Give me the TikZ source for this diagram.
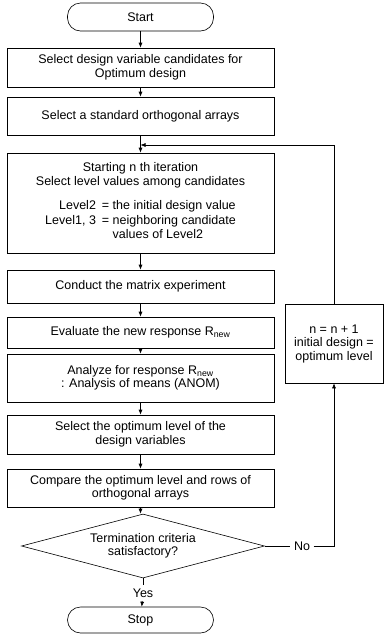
\documentclass[tikz,border=0pt]{standalone}
\usepackage{fontspec}
\setmainfont{Liberation Sans}
\usetikzlibrary{shapes.geometric,arrows.meta}

\tikzset{
  box/.style={draw, rectangle, minimum width=267pt, align=center, inner sep=2pt},
  term/.style={draw, rectangle, rounded corners=13pt, minimum width=146pt, minimum height=28pt},
  arr/.style={-{Latex[length=5pt,width=4pt]}}
}

\begin{document}
\begin{tikzpicture}[x=1pt, y=1pt, line width=0.6pt, font=\fontsize{12.5}{13.5}\selectfont]

\useasboundingbox (0,0) rectangle (385,-635);

% Start
\node[term] (start) at (140.5,-17) {Start};

% Steps
\node[box, minimum height=39pt] (b1) at (140.5,-67.5) {Select design variable candidates for\\Optimum design};
\node[box, minimum height=38pt] (b2) at (140.5,-116) {Select a standard orthogonal arrays};
\node[box, minimum height=100pt] (b3) at (140.5,-203) {Starting n th iteration\\Select level values among candidates\\[10pt]
  \renewcommand{\arraystretch}{1.1}%
  \begin{tabular}{@{}r@{\hspace{6pt}}l@{}}
  Level2 & = the initial design value\\
  Level1, 3 & = neighboring candidate\\
  & \phantom{= }values of Level2
  \end{tabular}};
\node[box, minimum height=33pt] (b4) at (140.5,-286.5) {Conduct the matrix experiment};
\node[box, minimum height=31pt] (b5) at (140.5,-332.5) {Evaluate the new response R\textsubscript{new}};
\node[box, minimum height=48pt] (b6) at (140.5,-378) {Analyze for response R\textsubscript{new}\\: Analysis of means (ANOM)};
\node[box, minimum height=39pt] (b7) at (140.5,-434.5) {Select the optimum level of the\\design variables};
\node[box, minimum height=38pt] (b8) at (140.5,-488) {Compare the optimum level and rows of\\orthogonal arrays};

% Test
\node[draw, diamond, aspect=3.8, minimum width=243pt, minimum height=64pt, inner sep=0pt, align=center] (test) at (143,-546) {Termination criteria\\satisfactory?};
\node (yes) at (143,-593) {Yes};
\node (no) at (302,-546) {No};

% Stop
\node[term, minimum height=26pt] (stop) at (140.5,-620) {Stop};

% Update
\node[box, minimum width=98pt, minimum height=79pt] (upd) at (334,-343.5) {n = n + 1\\initial design =\\optimum level};

% Loop point
\coordinate (loop) at (140.5,-145);

% Arrows
\draw[arr] (start) -- (b1);
\draw[arr] (b1) -- (b2);
\draw[arr] (b2) -- (b3);
\draw[arr] (b3) -- (b4);
\draw[arr] (b4) -- (b5);
\draw[arr] (b5) -- (b6);
\draw[arr] (b6) -- (b7);
\draw[arr] (b7) -- (b8);
\draw[arr] (b8) -- (test.north -| b8);
\draw (test) -- (yes);
\draw[arr] (yes) -- (stop);
\draw (test.east) -- (no);
\draw[arr] (no) -| (upd.south);
\draw[arr] (upd.north) |- (loop);

\end{tikzpicture}
\end{document}
